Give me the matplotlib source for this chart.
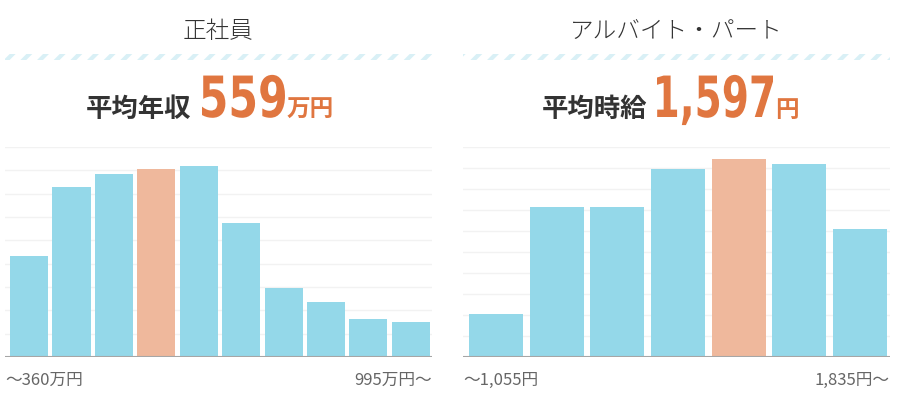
import matplotlib
matplotlib.use('Agg')
import matplotlib.pyplot as plt
from matplotlib.patches import Rectangle, PathPatch
from matplotlib.textpath import TextPath
from matplotlib.font_manager import FontProperties
from matplotlib.transforms import Affine2D

plt.rcParams['font.family'] = ['Noto Sans CJK JP', 'DejaVu Sans']
plt.rcParams['hatch.linewidth'] = 3.0

# share of respondents (%) per pay bracket
fulltime_values = [8.7, 14.6, 15.7, 16.1, 16.4, 11.5, 5.9, 4.7, 3.3, 3.0]
fulltime_highlight = 3
fulltime_labels = ['～360万円', '995万円～']

parttime_values = [4.1, 14.3, 14.3, 17.9, 18.9, 18.4, 12.2]
parttime_highlight = 4
parttime_labels = ['～1,055円', '1,835円～']

W, H = 904, 396
BLUE = '#94d8e9'
ORANGE = '#efb89c'
HEAD = '#e07640'
DARK = '#333333'


def draw_hist(ax, values, highlight, ymax, step, xpad, width):
    colors = [ORANGE if i == highlight else BLUE for i in range(len(values))]
    ax.bar(range(len(values)), values, width=width, color=colors, zorder=2)
    ax.set_xlim(-0.5 - xpad, len(values) - 0.5)
    ax.set_ylim(0, ymax)
    for y in range(step, ymax + 1, step):
        ax.axhline(y, color='#f2f2f2', linewidth=1, zorder=1)
    ax.axhline(0, color='#a6a6a6', linewidth=1.5, zorder=3)
    ax.set_xticks([])
    ax.set_yticks([])
    for s in ax.spines.values():
        s.set_visible(False)
    ax.patch.set_alpha(0)


def big_number(fig, text, x_left, x_right, baseline, digit_h):
    """Bold condensed number: DejaVu Bold squeezed to the given width"""
    prop = FontProperties(family='DejaVu Sans', weight='bold')
    tp = TextPath((0, 0), text, size=100, prop=prop)
    ref = TextPath((0, 0), '8', size=100, prop=prop).get_extents()
    ext = tp.get_extents()
    sy = digit_h / ref.height
    sx = (x_right - x_left) / ext.width
    tr = Affine2D().translate(-ext.x0, 0).scale(sx, sy).translate(x_left, H - baseline)
    fig.patches.append(PathPatch(tr.transform_path(tp), transform=None,
                                 facecolor=HEAD, edgecolor='none'))


def draw_header(fig, x0, x1, title, label, label_x, number, num_span, unit, unit_x):
    cx = (x0 + x1) / 2
    fig.text(cx / W, 1 - 32 / H, title, ha='center', va='center',
             fontsize=17, color=DARK, fontweight='light')
    fig.patches.append(Rectangle((x0 / W, 1 - 60 / H), (x1 - x0) / W, 6 / H,
                                 transform=fig.transFigure, facecolor='none',
                                 edgecolor='#d9f0f6', hatch='//', linewidth=0))
    fig.text(label_x / W, 1 - 117 / H, label, ha='left', va='baseline',
             fontsize=19, color=DARK, fontweight='bold')
    big_number(fig, number, num_span[0], num_span[1], 117, 43)
    fig.text(unit_x / W, 1 - 117 / H, unit, ha='left', va='baseline',
             fontsize=17, color=HEAD, fontweight='bold')


fig = plt.figure(figsize=(W / 100, H / 100), dpi=100)

ax1 = fig.add_axes([5 / W, 39 / H, 427 / W, 210 / H])
draw_hist(ax1, fulltime_values, fulltime_highlight, 18, 2, 0.07, 0.9)
ax2 = fig.add_axes([463 / W, 39 / H, 427 / W, 210 / H])
draw_hist(ax2, parttime_values, parttime_highlight, 20, 2, 0.05, 0.89)

draw_header(fig, 5, 432, '正社員', '平均年収', 86, '559', (202, 285), '万円', 287)
draw_header(fig, 463, 890, 'アルバイト・パート', '平均時給', 542, '1,597', (657, 773), '円', 775)

label_kw = dict(va='center', fontsize=12, color='#666666')
fig.text(5 / W, 1 - 380 / H, fulltime_labels[0], ha='left', **label_kw)
fig.text(432 / W, 1 - 380 / H, fulltime_labels[1], ha='right', **label_kw)
fig.text(463 / W, 1 - 380 / H, parttime_labels[0], ha='left', **label_kw)
fig.text(890 / W, 1 - 380 / H, parttime_labels[1], ha='right', **label_kw)

fig.savefig('out.png', dpi=100, facecolor='white')
